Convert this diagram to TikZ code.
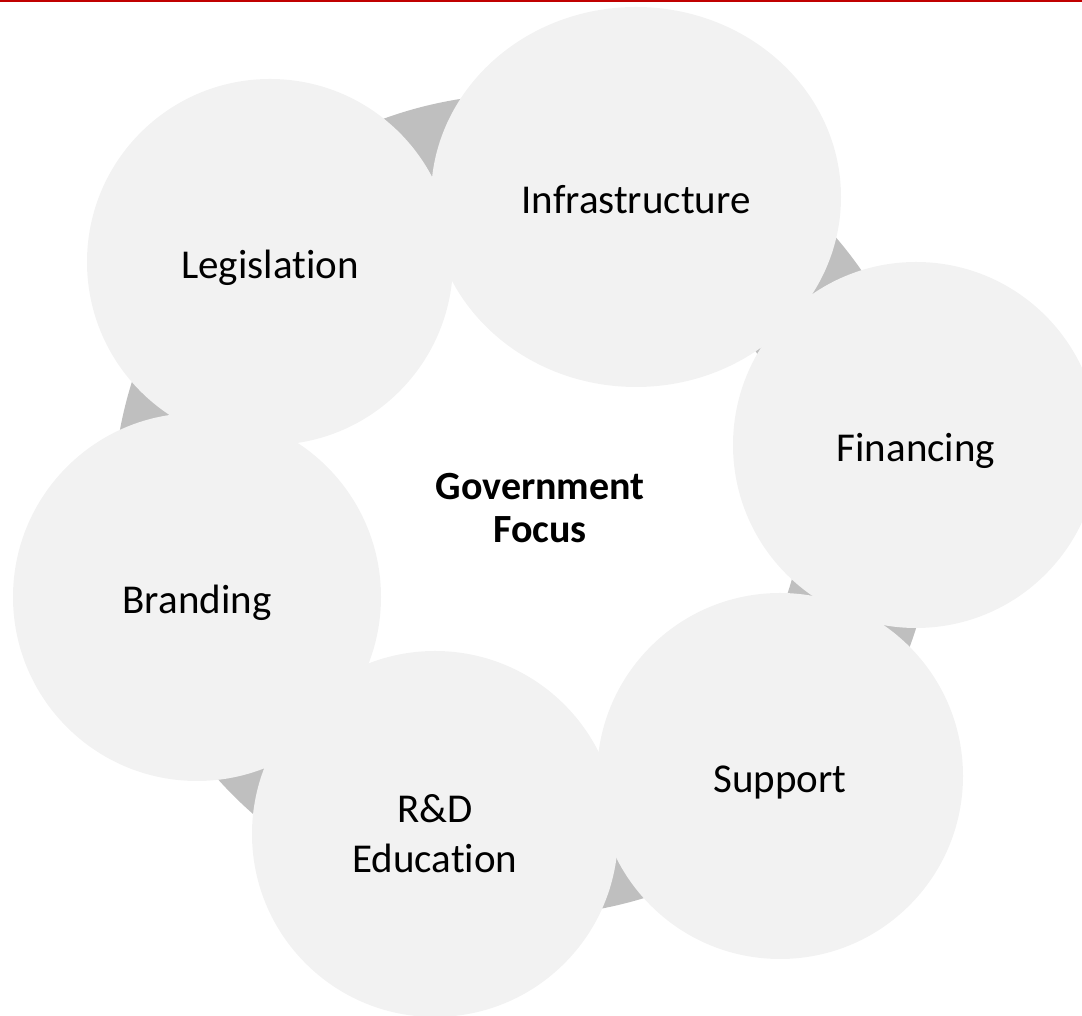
\documentclass[tikz,border=0pt]{standalone}
\usepackage{xcolor}
\usepackage{fontspec}
\setmainfont{Carlito}[Ligatures=NoCommon]
\usepackage{tikz}
\usetikzlibrary{shapes.geometric,calc,backgrounds}

\definecolor{bubblegray}{HTML}{F2F2F2}
\definecolor{arcgray}{HTML}{BFBFBF}
\definecolor{topred}{HTML}{C00000}
\newcommand{\ringr}{172.25pt}

\tikzset{
  bubble/.style={circle, fill=bubblegray, minimum size=183pt, inner sep=0pt,
    align=center, font=\fontsize{20.5}{25}\selectfont},
  oneline/.style={text height=16.5pt, text depth=0pt},
  cyclearc/.style={draw=arcgray, line width=66.5pt},
}

\begin{document}
\begin{tikzpicture}[x=0.5pt,y=0.5pt]
				\useasboundingbox (0,0) rectangle (1082,1016);
				\fill[topred] (0,1014) rectangle (1082,1016);
				\coordinate (hub) at (524, 511);
				\node[bubble, oneline] (leg) at (270, 754) {Legislation};
				\node[bubble, oneline, ellipse, minimum width=205pt, minimum height=190pt] (infra) at (636, 819) {Infrastructure};
				\node[bubble, oneline] (fin) at (916, 571) {Financing};
				\node[bubble, oneline] (sup) at (780, 240) {Support};
				\node[bubble] (rd) at (435, 182) {R\&D\\Education};
				\node[bubble, oneline, minimum size=184pt] (brand) at (197, 419) {Branding};
				\node[align=center, font=\bfseries\fontsize{20}{21.5}\selectfont] (focus) at (540, 508) {Government\\Focus};
				\begin{scope}[on background layer]
				\foreach \a/\b in {leg/infra, infra/fin, fin/sup, sup/rd, rd/brand, brand/leg}
					\draw[cyclearc] let \p1=($(\a)-(hub)$), \p2=($(\b)-(hub)$),
						\n1={atan2(\y1,\x1)}, \n2={\n1-mod(\n1-atan2(\y2,\x2)+720,360)} in
						($(hub)+(\n1:\ringr)$) arc[start angle=\n1, end angle=\n2, radius=\ringr];
				\end{scope}
		\end{tikzpicture}
\end{document}
